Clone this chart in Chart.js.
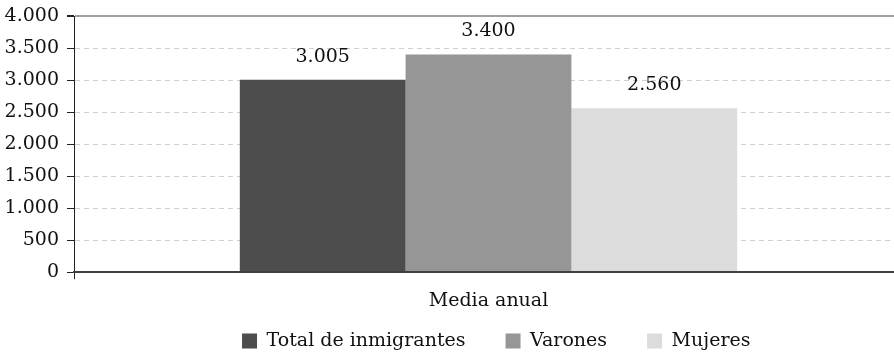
<!DOCTYPE html>
<html><head><meta charset="utf-8">
<script src="https://cdn.jsdelivr.net/npm/chart.js@4/dist/chart.umd.min.js"></script>
<style>html,body{margin:0;padding:0;background:#fff;overflow:hidden;width:894px;height:356px}#wrap{width:903px;height:356px;position:relative}</style>
</head><body><div id="wrap"><canvas id="c"></canvas></div>
<script>
const categories = ['Media anual'];
const seriesNames = ['Total de inmigrantes', 'Varones', 'Mujeres'];
const totalValues = [3005];
const varonesValues = [3400];
const mujeresValues = [2560];
const yTickValues = [0, 500, 1000, 1500, 2000, 2500, 3000, 3500, 4000];
const seriesColors = ['#4d4d4d', '#969696', '#dcdcdc'];

const FONT = '"DejaVu Serif", "Liberation Serif", serif';
const FS = 19;
const LEGEND_PAD = 40;
const fmt = v => String(v).replace(/\B(?=(\d{3})+(?!\d))/g, '.');

const valueLabels = {
  id: 'valueLabels',
  afterDatasetsDraw(chart) {
    const ctx = chart.ctx;
    ctx.save();
    ctx.font = FS + 'px ' + FONT;
    ctx.fillStyle = '#111';
    ctx.textAlign = 'center';
    ctx.textBaseline = 'middle';
    chart.data.datasets.forEach((ds, i) => {
      chart.getDatasetMeta(i).data.forEach((bar, j) => {
        ctx.fillText(fmt(ds.data[j]), bar.x, bar.y - 23);
      });
    });
    ctx.restore();
  }
};

// place the legend row: first box under the first bar, row centred near y=341
const legendPlace = {
  id: 'legendPlace',
  afterLayout(chart) {
    const lg = chart.legend;
    if (!lg || !lg.lineWidths) return;
    const area = chart.chartArea;
    const currentX = (lg.left + LEGEND_PAD + lg.right - lg.lineWidths[0]) / 2;
    const targetX = area.left + (area.right - area.left) * 0.2027;
    const dx = targetX - currentX;
    lg.left += dx; lg.right += dx;
    lg.top = 331.5 - LEGEND_PAD;
    lg.bottom = chart.height;
  }
};

new Chart(document.getElementById('c'), {
  type: 'bar',
  data: {
    labels: categories,
    datasets: [
      { label: seriesNames[0], data: totalValues, backgroundColor: seriesColors[0] },
      { label: seriesNames[1], data: varonesValues, backgroundColor: seriesColors[1] },
      { label: seriesNames[2], data: mujeresValues, backgroundColor: seriesColors[2] }
    ]
  },
  options: {
    responsive: true,
    maintainAspectRatio: false,
    animation: false,
    devicePixelRatio: 1,
    categoryPercentage: 0.6,
    barPercentage: 1,
    layout: { padding: { top: 0, right: 0, left: 0, bottom: 0 } },
    plugins: {
      legend: {
        position: 'bottom',
        maxHeight: 34,
        labels: { font: { family: FONT, size: FS }, color: '#111', boxWidth: 15, boxHeight: 15, padding: LEGEND_PAD }
      },
      tooltip: { enabled: false }
    },
    scales: {
      x: {
        grid: { drawOnChartArea: false, drawTicks: true, tickLength: 7, tickColor: '#222' },
        border: { display: true, color: '#404040', width: 2, z: 1 },
        ticks: { font: { family: FONT, size: FS }, color: '#111', padding: 10 }
      },
      y: {
        min: 0, max: 4000,
        afterBuildTicks(scale) { scale.ticks = yTickValues.map(v => ({ value: v })); },
        afterFit(scale) { scale.width = 74; scale.paddingTop = 16; },
        grid: {
          color: c => (c.tick && c.tick.value === 4000) ? '#a0a0a0' : '#cfcfcf',
          lineWidth: c => (c.tick && c.tick.value === 4000) ? 2 : 1,
          tickLength: 7, tickColor: '#222'
        },
        border: { display: true, color: '#222', width: 1, dash: c => (c.tick && c.tick.value === 4000) ? [] : [5, 4] },
        ticks: { font: { family: FONT, size: FS }, color: '#111', padding: 8, callback: v => fmt(v) }
      }
    }
  },
  plugins: [valueLabels, legendPlace]
});
</script></body></html>
